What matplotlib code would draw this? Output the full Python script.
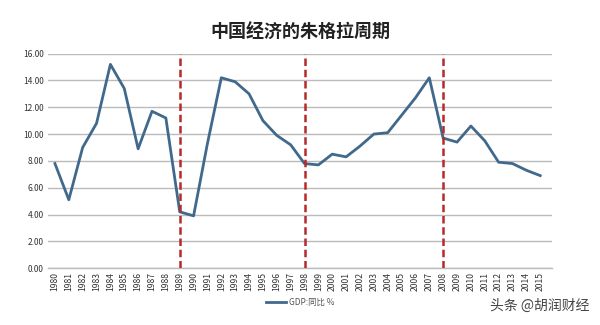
import matplotlib
matplotlib.use("Agg")
import matplotlib.pyplot as plt

plt.rcParams['font.family'] = ['Noto Sans CJK SC', 'DejaVu Sans']

years = list(range(1980, 2016))
gdp = [7.8, 5.1, 9.0, 10.8, 15.2, 13.4, 8.9, 11.7, 11.2, 4.2,
       3.9, 9.3, 14.2, 13.9, 13.0, 11.0, 9.9, 9.2, 7.8, 7.7,
       8.5, 8.3, 9.1, 10.0, 10.1, 11.4, 12.7, 14.2, 9.7, 9.4,
       10.6, 9.5, 7.9, 7.8, 7.3, 6.9]
cycle_years = [1989, 1998, 2008]
yticks = [0, 2, 4, 6, 8, 10, 12, 14, 16]

fig = plt.figure(figsize=(6, 3.25), dpi=100)
ax = fig.add_axes([0.08, 0.175, 0.84, 0.66])

ax.plot(years, gdp, color='#41698c', linewidth=2.0, label='GDP:同比 %', zorder=3)
for cy in cycle_years:
    ax.axvline(cy, color='#b52a2a', linestyle=(0, (3, 1.5)), linewidth=1.8, zorder=4)

ax.set_ylim(0, 16)
ax.set_xlim(1979.5, 2015.85)
ax.set_yticks(yticks)
ax.set_yticklabels([f"{v:.2f}" for v in yticks], fontsize=6, color='#333333')
ax.set_xticks(years)
ax.set_xticklabels([str(y) for y in years], rotation=90, fontsize=6.2, color='#333333')
ax.tick_params(length=0, pad=3)
ax.yaxis.grid(True, color='#bbbbbb', linewidth=1.0)
ax.set_axisbelow(True)
for s in ['top', 'right', 'left']:
    ax.spines[s].set_visible(False)
ax.spines['bottom'].set_color('#bbbbbb')
ax.spines['bottom'].set_linewidth(1.0)

fig.text(0.5, 0.9, '中国经济的朱格拉周期', ha='center', va='center',
         fontsize=13, fontweight='bold', color='#222222')
leg = fig.legend(loc='center', bbox_to_anchor=(0.5, 0.07), frameon=False,
                 fontsize=6, handlelength=2.5, handletextpad=0.3)
for t in leg.get_texts():
    t.set_color('#555555')
fig.text(0.9, 0.06, '头条 @胡润财经', ha='center', va='center',
         fontsize=10, color='#444444')

fig.savefig('out.png', dpi=100)
